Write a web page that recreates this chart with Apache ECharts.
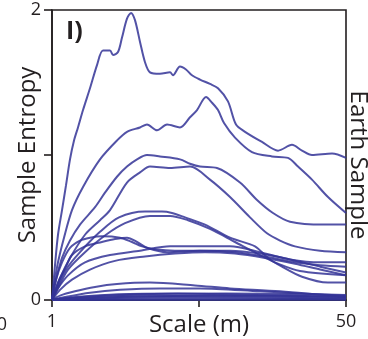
<!DOCTYPE html>
<html>
<head>
<meta charset="utf-8">
<script src="https://cdn.jsdelivr.net/npm/echarts@6/dist/echarts.min.js"></script>
<style>
  html, body { margin: 0; padding: 0; background: #fff; }
  #chart { width: 368px; height: 339px; }
</style>
</head>
<body>
<div id="chart"></div>
<script>
// Sample entropy versus scale, one curve per earth sample: [scale (m), entropy]
const curveA = [[1,0],[1.5,.24],[2,.45],[2.67,.62],[3.33,.79],[4,.97],[4.67,1.1],[5.33,1.19],[6.17,1.31],[7.33,1.46],[8.5,1.62],[9.5,1.72],[10.67,1.72],[11.17,1.69],[12,1.71],[12.67,1.81],[13.5,1.94],[14.17,1.98],[14.83,1.93],[15.67,1.78],[16.5,1.64],[17.33,1.57],[19,1.56],[20.67,1.57],[21.17,1.55],[22.33,1.61],[23.33,1.59],[24.33,1.55],[25.67,1.52],[27.33,1.49],[28.67,1.46],[30.33,1.37],[31.67,1.21],[33.17,1.16],[36,1.09],[38.67,1.03],[41,1.07],[42.67,1.03],[44.33,1.0],[47.67,1.01],[50,.98]];
const curveB = [[1,0],[1.33,.10],[2,.26],[3,.43],[4.33,.62],[6.17,.78],[9,.97],[11.83,1.10],[13.5,1.16],[15.67,1.19],[16.83,1.21],[18.5,1.17],[20.17,1.21],[22.33,1.19],[24,1.26],[25.17,1.31],[26.67,1.40],[27.67,1.36],[28.67,1.31],[29.67,1.22],[31.5,1.12],[34.33,1.02],[37.67,.99],[40.33,.98],[42,.92],[44.33,.83],[47,.71],[50,.60]];
const curveC = [[1,0],[1.67,.14],[2.67,.29],[4,.41],[5.67,.52],[8.17,.64],[9.83,.74],[11.83,.85],[13.5,.92],[15.17,.97],[16.83,1.0],[19,.99],[22.33,.97],[24,.94],[25.67,.92],[28.5,.91],[32.33,.81],[35.17,.69],[37.83,.60],[40.67,.54],[46.17,.52],[50,.52]];
const curveD = [[1,0],[2.33,.15],[4,.29],[6.5,.45],[9,.55],[10.67,.62],[13.5,.81],[15.67,.88],[17.33,.92],[20.67,.91],[24,.92],[27.33,.83],[30.67,.71],[34,.57],[36.83,.46],[39,.41],[41.5,.37],[45.67,.34],[50,.33]];
const curveE = [[1,0],[2,.10],[3.33,.21],[5.67,.33],[9,.47],[12.17,.57],[16.5,.61],[19.33,.61],[21,.60],[23.17,.57],[26.5,.52],[30.67,.43],[34.83,.37],[37,.29],[39.33,.23],[42.67,.16],[47,.12],[50,.12]];
const curveE2 = [[1,0],[2.33,.11],[3.67,.21],[6.5,.33],[10,.45],[13.17,.53],[17.33,.58],[20.67,.58],[23.67,.55],[27.33,.49],[31.5,.40],[35.67,.31],[38.67,.25],[42.33,.20],[50,.17]];
const curveF = [[1,0],[1.67,.14],[2.67,.26],[4,.36],[5.67,.41],[7.33,.43],[9.33,.44],[12.33,.43],[14.33,.40],[16,.37],[18.17,.35],[21.5,.34],[25.67,.34],[30.67,.34],[35.67,.32],[40.67,.28],[45.67,.23],[50,.19]];
const curveF2 = [[1,0],[2,.12],[3.33,.23],[4.33,.31],[6.5,.37],[9.33,.40],[11.5,.42],[13.5,.43],[15.17,.40],[16.83,.36],[20.17,.33],[25.67,.34],[31.5,.33],[36.5,.30],[41.5,.26],[45.67,.24],[50,.23]];
const curveG1 = [[1,0],[2,.08],[3.67,.17],[6.5,.26],[10.67,.31],[15.67,.34],[20.67,.37],[25.67,.37],[30.67,.37],[35.67,.33],[40.67,.28],[45.67,.26],[50,.26]];
const curveG2 = [[1,0],[2.33,.07],[4.33,.14],[7.33,.21],[11.5,.27],[16.5,.30],[21.5,.32],[26.5,.33],[31.5,.32],[36.5,.29],[41.5,.25],[45.67,.21],[50,.17]];
const curveH1 = [[1,0],[2.33,.03],[4.83,.06],[8.17,.09],[11.83,.11],[17.33,.12],[24.83,.10],[30.67,.08],[39,.06],[50,.02]];
const curveH2 = [[1,0],[3.17,.02],[7.33,.05],[12.33,.07],[19,.08],[25.67,.08],[35.67,.06],[50,.03]];
const curveL1 = [[1,0],[5,.02],[12,.04],[22,.045],[35,.035],[50,.02]];
const curveL2 = [[1,0],[6,.015],[15,.03],[28,.03],[50,.015]];
const curveL3 = [[1,0],[8,.01],[20,.02],[50,.01]];
const curveL4 = [[1,0],[10,.006],[30,.01],[50,.005]];
const curveL5 = [[1,0],[50,.002]];
const curveL6 = [[1,0],[6,.02],[15,.04],[30,.045],[50,.035]];
const curveL7 = [[1,0],[12,.02],[30,.03],[50,.025]];

const curves = [curveA, curveB, curveC, curveD, curveE, curveE2, curveF, curveF2,
  curveG1, curveG2, curveH1, curveH2, curveL1, curveL2, curveL3, curveL4, curveL5,
  curveL6, curveL7];

// Axis ticks and labels
const xTicks = [1, 25.5, 50];
const xLabels = [1, 50];
const yTicks = [0, 1, 2];
const yLabels = [0, 2];

const FONT = '"Open Sans", "DejaVu Sans", sans-serif';
const INK = '#231f20';
const LINE = 'rgba(52, 52, 150, 0.85)';

const chart = echarts.init(document.getElementById('chart'), null, { renderer: 'canvas' });

chart.setOption({
  animation: false,
  backgroundColor: '#ffffff',
  grid: {
    left: 52, right: 22, top: 10, bottom: 39,
    outerBoundsMode: 'none', containLabel: false,
    show: true, borderColor: INK, borderWidth: 1.6
  },
  xAxis: {
    type: 'value', min: 1, max: 50,
    name: 'Scale (m)', nameLocation: 'middle', nameGap: 13, nameMoveOverlap: false,
    nameTextStyle: { fontFamily: FONT, fontSize: 24, color: INK },
    axisLine: { lineStyle: { color: INK, width: 1.6 } },
    axisTick: { show: true, inside: false, length: 7, customValues: xTicks, lineStyle: { color: INK, width: 1.6 } },
    axisLabel: { customValues: xLabels, margin: 13, fontFamily: FONT, fontSize: 18, color: INK },
    splitLine: { show: false }
  },
  yAxis: {
    type: 'value', min: 0, max: 2,
    name: 'Sample Entropy', nameLocation: 'middle', nameGap: 12, nameMoveOverlap: false,
    nameTextStyle: { fontFamily: FONT, fontSize: 24, color: INK },
    axisLine: { show: true, lineStyle: { color: INK, width: 1.6 } },
    axisTick: { show: true, length: 8, customValues: yTicks, lineStyle: { color: INK, width: 1.6 } },
    axisLabel: { customValues: yLabels, margin: 11, fontFamily: FONT, fontSize: 18, color: INK },
    splitLine: { show: false }
  },
  series: curves.map(function (c) {
    return {
      type: 'line', data: c, smooth: 0.3, showSymbol: false, silent: true,
      lineStyle: { color: LINE, width: 2 }
    };
  }),
  graphic: [
    { type: 'text', left: 66, top: 19,
      style: { text: 'I)', font: 'bold 25px ' + FONT, fill: INK } },
    { type: 'text', x: 358, y: 165, rotation: -Math.PI / 2,
      style: { text: 'Earth Sample', font: '24px ' + FONT, fill: INK, align: 'center', verticalAlign: 'middle' } },
    { type: 'text', x: 2, y: 325,
      style: { text: '0', font: '18px ' + FONT, fill: INK, align: 'center', verticalAlign: 'middle' } }
  ]
});
</script>
</body>
</html>
